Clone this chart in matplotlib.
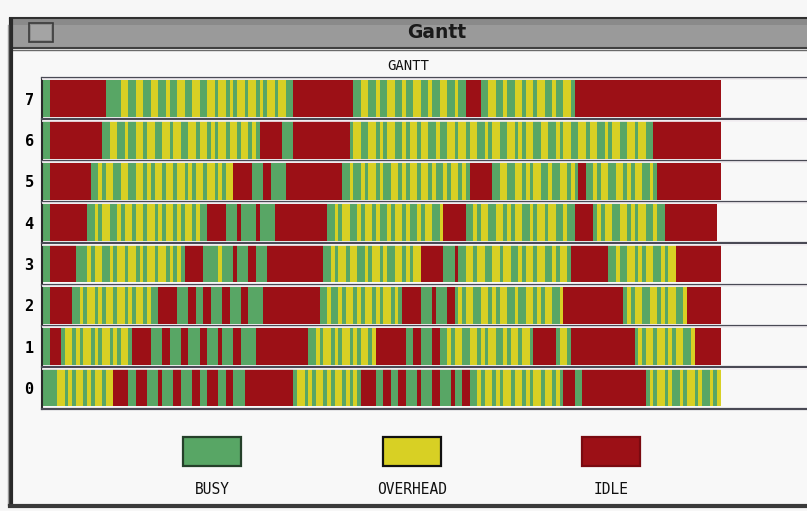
import re
import matplotlib
matplotlib.use("Agg")
import matplotlib.pyplot as plt
from matplotlib.patches import Rectangle

# Gantt data: one run-length string per processor row.
# G = busy, Y = overhead, R = idle; each count is STEP time units.
STEP = 2
T_MAX = 407
ROWS = [0, 1, 2, 3, 4, 5, 6, 7]
ROW_DATA = {
    7: ("G2 R15 "
        "G4 Y2 G2 Y2 G2 Y2 G2 Y1 G2 Y2 G2 Y2 G2 Y2 G1 Y2 G1 Y1 G1 Y2 G1 Y2 G1 Y1 G1 Y2 G1 Y2 G2 "
        "R16 "
        "G2 Y2 G2 Y1 G2 Y2 G2 Y1 G2 Y2 G2 Y1 G2 Y2 G2 Y1 G2 "
        "R4 "
        "G2 Y2 G2 Y1 G2 Y2 G1 Y2 G1 Y2 G2 Y1 G2 Y2 G1 "
        "R39"),
    6: ("G2 R14 "
        "G2 Y2 G2 Y1 G2 Y2 G1 Y2 G2 Y2 G1 Y2 G2 Y2 G1 Y2 G1 Y1 G1 Y2 G1 Y2 G1 Y2 G1 Y1 G1 "
        "R6 G3 R15 "
        "G1 Y2 G2 Y2 G1 Y1 G1 Y2 G2 Y1 G1 Y2 G1 Y2 G2 Y1 G2 Y2 G1 Y2 G1 Y2 G2 Y1 G1 Y2 "
        "G2 Y2 G1 Y1 G1 Y2 G2 Y2 G2 Y1 G1 Y2 G2 Y2 G1 Y2 G2 Y1 G1 Y2 G2 Y2 G1 Y2 G2 "
        "R18"),
    5: ("G2 R11 "
        "G2 Y1 G1 Y2 G2 Y2 G2 Y2 G1 Y1 G1 Y2 G1 Y2 G1 Y2 G1 Y1 G1 Y2 G1 Y2 G1 Y1 G1 Y2 "
        "R5 G3 R2 G4 R15 "
        "G2 Y1 G2 Y1 G1 Y2 G1 Y1 G2 Y2 G1 Y1 G1 Y2 G1 Y2 G1 Y1 G2 Y1 G1 Y2 G1 Y1 G1 "
        "R6 "
        "G2 Y2 G2 Y2 G1 Y1 G1 Y2 G2 Y1 G2 Y2 G1 Y1 G1 "
        "R2 "
        "G2 Y1 G1 Y2 G2 Y2 G1 Y1 G1 Y2 G2 Y1 G1 "
        "R17"),
    4: ("G2 R10 "
        "G2 Y1 G1 Y2 G2 Y1 G1 Y2 G1 Y2 G1 Y2 G1 Y1 G1 Y2 G1 Y1 G1 Y2 G1 Y1 G2 "
        "R5 G3 R1 G4 R1 G4 R14 "
        "G2 Y1 G1 Y2 G2 Y1 G1 Y2 G1 Y1 G2 Y1 G1 Y2 G1 Y1 G2 Y1 G1 Y2 G2 Y1 "
        "R6 "
        "G2 Y1 G1 Y2 G2 Y2 G1 Y1 G1 Y2 G2 Y1 G1 Y2 G1 Y2 G2 Y1 G2 "
        "R5 "
        "G1 Y1 G1 Y2 G2 Y2 G1 Y1 G1 Y2 G2 Y1 G2 "
        "R14"),
    3: ("G2 R7 "
        "G3 Y1 G1 Y2 G2 Y1 G1 Y2 G1 Y2 G1 Y1 G1 Y2 G1 Y2 G1 Y1 G1 Y1 G1 "
        "R5 G4 Y1 G3 R1 G3 R2 G3 R15 "
        "G2 Y1 G1 Y2 G1 Y2 G2 Y1 G1 Y2 G1 Y1 G2 Y2 G1 Y1 G1 Y2 "
        "R6 G3 R1 "
        "G2 Y2 G1 Y2 G2 Y2 G1 Y2 G2 Y1 G1 Y2 G1 Y2 G2 Y1 G1 Y2 G1 "
        "R10 "
        "G2 Y1 G2 Y2 G1 Y1 G1 Y2 G2 Y1 G1 Y2 "
        "R12"),
    2: ("G2 R6 "
        "G2 Y1 G1 Y2 G1 Y1 G1 Y2 G1 Y2 G1 Y1 G1 Y2 G1 Y1 G2 "
        "R5 G3 R2 G2 R2 G3 R2 G3 R2 G4 R15 "
        "G2 Y1 G2 Y1 G1 Y2 G1 Y1 G1 Y2 G1 Y1 G1 Y2 G1 Y1 G1 "
        "R5 G3 R1 G3 R2 "
        "G1 Y1 G1 Y2 G2 Y2 G1 Y1 G1 Y2 G2 Y1 G2 Y2 G1 Y1 G1 Y2 G2 Y1 "
        "R16 "
        "G1 Y1 G1 Y2 G2 Y2 G1 Y1 G1 Y2 G2 Y1 "
        "R9"),
    1: ("G2 R3 "
        "G1 Y2 G1 Y1 G1 Y2 G1 Y1 G1 Y2 G1 Y1 G1 Y2 G1 "
        "R5 G3 R2 G3 R2 G3 R2 G3 R1 G3 R2 G4 R14 "
        "G2 Y1 G1 Y2 G1 Y1 G1 Y2 G1 Y1 G1 Y2 G1 Y1 "
        "R8 G2 R2 G3 R2 "
        "G2 Y1 G1 Y2 G2 Y2 G1 Y1 G1 Y2 G2 Y1 G1 Y2 G1 Y2 G1 "
        "R6 G1 Y2 G1 R17 "
        "G1 Y1 G1 Y2 G1 Y2 G1 Y1 G1 Y2 G2 Y1 "
        "R7"),
    0: ("G3 "
        "G1 Y2 G1 Y1 G1 Y2 G1 Y1 G1 Y2 G1 Y2 "
        "R4 G2 R3 G3 R1 G3 R2 G3 R2 G2 R3 G2 R2 G3 R13 "
        "G1 Y2 G1 Y1 G1 Y2 G1 Y1 G1 Y2 G1 Y1 G1 Y1 G1 "
        "R4 G2 R2 G2 R2 G3 R1 G3 R2 G3 R1 G2 R2 "
        "G2 Y1 G1 Y2 G1 Y1 G1 Y2 G1 Y2 G1 Y1 G1 Y2 G1 Y2 G1 Y1 G1 "
        "R3 G2 R17 "
        "G1 Y1 G1 Y2 G1 Y1 G2 Y1 G1 Y2 G1 Y1 G2 Y1 G1 Y1"),
}
STATES = ["G", "Y", "R"]
STATE_LABELS = ["BUSY", "OVERHEAD", "IDLE"]
STATE_COLORS = {"G": "#58a665", "Y": "#d8d024", "R": "#9c1016"}


def parse_row(text):
    segs = {s: [] for s in STATES}
    t = 0
    for code, n in re.findall(r"([GYR])(\d+)", text):
        w = int(n) * STEP
        segs[code].append((t, w))
        t += w
    return segs


W, H = 807, 511
fig = plt.figure(figsize=(W / 100, H / 100), dpi=100)
fig.patch.set_facecolor("#f7f7f7")

# window chrome, in pixel coordinates
bg = fig.add_axes([0, 0, 1, 1])
bg.set_xlim(0, W)
bg.set_ylim(H, 0)
bg.axis("off")
bg.add_patch(Rectangle((10, 17), W - 10, 32, facecolor="#9a9a9a", edgecolor="none"))
bg.add_patch(Rectangle((10, 19), W - 10, 6, facecolor="#8a8a8a", edgecolor="none"))
bg.plot([10, W], [18, 18], color="#303030", lw=1.5)
bg.plot([10, W], [48, 48], color="#404040", lw=1.5)
bg.plot([10, W], [50, 50], color="#6a6a6a", lw=1)
bg.add_patch(Rectangle((29, 23), 24, 19, facecolor="#8c8c8c", edgecolor="#3a3a3a", lw=1.2))
bg.add_patch(Rectangle((31, 25), 20, 15, facecolor="#a4a4a4", edgecolor="none"))
bg.text(437, 33, "Gantt", ha="center", va="center", fontsize=13.5,
        fontweight="bold", family="DejaVu Sans", color="#1a1a1a")
bg.plot([11, 11], [20, 505], color="#2a2a2a", lw=3)
bg.plot([8, 8], [25, 505], color="#9a9a9a", lw=1)
bg.plot([10, W], [506, 506], color="#3a3a3a", lw=3)
bg.add_patch(Rectangle((13, 51), W - 13, 454, facecolor="#f8f8f8", edgecolor="none"))

mono = "DejaVu Sans Mono"
bg.text(408, 66, "GANTT", ha="center", va="center", fontsize=10, family=mono, color="#111")
bg.text(55, 393, "0", ha="center", va="center", fontsize=10, family=mono, color="#111")
bg.text(408, 393, "TIME", ha="center", va="center", fontsize=10, family=mono, color="#111")
bg.text(780, 393, str(T_MAX), ha="center", va="center", fontsize=10, family=mono, color="#111")

# legend boxes
legend_x = [212, 412, 611]
legend_edges = {"G": "#25402a", "Y": "#111111", "R": "#7a0a10"}
for s, lab, cx in zip(STATES, STATE_LABELS, legend_x):
    bg.add_patch(Rectangle((cx - 29, 437), 58, 29, facecolor=STATE_COLORS[s],
                           edgecolor=legend_edges[s], lw=1.6))
    bg.text(cx, 490, lab, ha="center", va="center", fontsize=10.5, family=mono, color="#111")

# gantt axes
ax = fig.add_axes([42 / W, (H - 408.5) / H, 1 - 42 / W, 330.5 / H])
ax.set_facecolor("#f8f8f8")
ax.set_xlim(0, T_MAX + 1)
ax.set_ylim(-0.5, 7.5)
bar_h = 0.9
for r in ROWS:
    segs = parse_row(ROW_DATA[r])
    for s in STATES:
        ax.broken_barh(segs[s], (r - bar_h / 2, bar_h), facecolors=STATE_COLORS[s],
                       edgecolor="none", linewidth=0)
for b in range(9):
    ax.axhline(b - 0.5, color="#4a4a55", lw=1.6, zorder=3, clip_on=False)
    if b > 0:
        ax.axhline(b - 0.5 - 0.035, color="#f2eef2", lw=1.2, zorder=3)
ax.set_yticks(ROWS)
ax.set_yticklabels([str(r) for r in ROWS], family=mono, fontsize=11, fontweight="bold")
ax.tick_params(axis="y", length=0, pad=6)
ax.set_xticks([])
for side in ["right", "top", "bottom"]:
    ax.spines[side].set_visible(False)
ax.spines["left"].set_color("#2a2a2a")
ax.spines["left"].set_linewidth(1.5)

fig.savefig("out.png", dpi=100)
